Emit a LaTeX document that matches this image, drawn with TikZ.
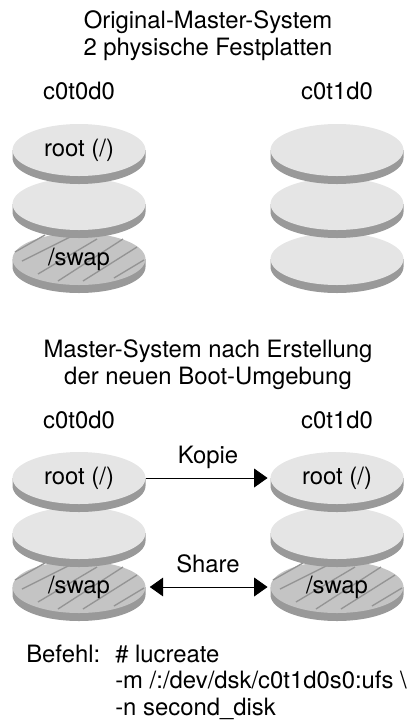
\documentclass[tikz,border=0pt]{standalone}
\usepackage{fontspec}
\setmainfont{TeX Gyre Heros}
\usetikzlibrary{shapes.geometric,arrows.meta}
\definecolor{facegray}{gray}{.9}
\definecolor{sidegray}{gray}{.6}
\definecolor{swapgray}{gray}{.77}
\definecolor{hatchgray}{gray}{.58}

\tikzset{
  label text/.style={font=\fontsize{17.9pt}{20pt}\selectfont,inner sep=0pt},
  title text/.style={label text,align=center},
  disk face/.style={ellipse,fill=#1,inner sep=0pt,minimum width=99.75pt,minimum height=39pt},
  conn/.style={line width=.7pt,shorten >=2pt,shorten <=0pt},
  bighead/.tip={Triangle[length=10pt,width=14pt]},
}

% one disk: name, x, y, fill
\newcommand{\diskat}[4]{
  \fill[sidegray] ({#2-66.5},#3) -- ({#2-66.5},{#3+8}) arc (180:0:66.5 and 26) -- ({#2+66.5},#3) -- cycle;
  \node[disk face=#4] (#1) at (#2,#3) {};
}
\newcommand{\swapat}[3]{
  \diskat{#1}{#2}{#3}{swapgray}
  \foreach \xa/\ya/\xb/\yb in {-64/-7/-34/-24,-57/2/-9/-22,-41/15/18/-20,-21/22/44/-20,4/22/58/-12,35/19/65/1}
    \draw[hatchgray,line width=1pt] ({#2+\xa},{#3+\ya}) -- ({#2+\xb},{#3+\yb});
  \node[label text] (#1text) at (#2,{#3}) {/swap};
}

\begin{document}
\begin{tikzpicture}[x=.75pt,y=-.75pt]
  \useasboundingbox (0,0) rectangle (408,722);

  % upper system
  \node[title text] (titleA) at (208,36) {Original-Master-System\\2 physische Festplatten};
  \node[label text] (headAl) at (79,91) {c0t0d0};
  \node[label text] (headAr) at (337,91) {c0t1d0};

  \swapat{swapAl}{79}{259}
  \diskat{midAl}{79}{204}{facegray}
  \diskat{rootAl}{79}{150}{facegray}
  \node[label text] (rootAltext) at (rootAl) {root (/)};

  \diskat{botAr}{337}{259}{facegray}
  \diskat{midAr}{337}{204}{facegray}
  \diskat{rootAr}{337}{150}{facegray}

  % lower system
  \node[title text] (titleB) at (208,365) {Master-System nach Erstellung\\der neuen Boot-Umgebung};
  \node[label text] (headBl) at (79,420) {c0t0d0};
  \node[label text] (headBr) at (337,420) {c0t1d0};

  \swapat{swapBl}{79}{587}
  \diskat{midBl}{79}{533}{facegray}
  \diskat{rootBl}{79}{478}{facegray}
  \node[label text] (rootBltext) at (rootBl) {root (/)};

  \swapat{swapBr}{337}{587}
  \diskat{midBr}{337}{533}{facegray}
  \diskat{rootBr}{337}{478}{facegray}
  \node[label text] (rootBrtext) at (rootBr) {root (/)};

  % arrows
  \draw[conn,-bighead] (rootBl.east) -- (rootBr.west);
  \draw[conn,bighead-bighead,shorten <=3pt] (swapBl.east) -- (swapBr.west);
  \node[label text] (copyText) at (208,457) {Kopie};
  \node[label text] (shareText) at (208,564) {Share};

  % command
  \node[label text,anchor=base west] (cmdA) at (26,662) {Befehl:};
  \node[label text,anchor=base west] (cmdB) at (115,662) {\# lucreate};
  \node[label text,anchor=base west] (cmdC) at (115,688) {-m /:/dev/dsk/c0t1d0s0:ufs \textbackslash};
  \node[label text,anchor=base west] (cmdD) at (115,715) {-n second\_disk};
\end{tikzpicture}
\end{document}
